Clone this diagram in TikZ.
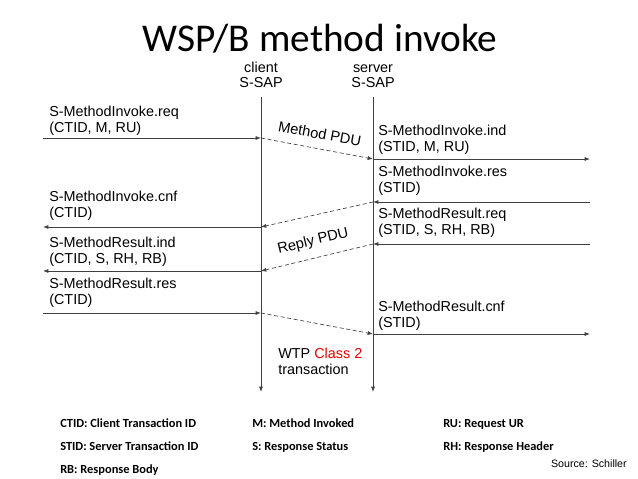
\documentclass[tikz,border=0pt]{standalone}
\usepackage{fontspec}
\setmainfont{Liberation Sans}
\newfontfamily\calibri{Carlito}
\usetikzlibrary{arrows.meta}
\colorlet{lnx}{black!75}
\colorlet{rdx}{red!90!black}
\tikzset{
    life/.style={lnx,line width=0.6pt,-{Latex[length=4pt,width=3pt]}},
    prim/.style={lnx,line width=0.6pt,-{Latex[length=4pt,width=3pt]}},
    pdu/.style={lnx,line width=0.5pt,densely dashed,-{Latex[length=4pt,width=3pt]}},
    pdulbl/.style={midway,sloped,above=6pt,inner sep=1pt,text=black,font=\fontsize{11}{12}\selectfont},
    txt/.style={inner sep=0pt,anchor=base west,align=left,font=\fontsize{10.8}{12}\selectfont},
    legend/.style={inner sep=0pt,anchor=base west,font=\calibri\bfseries\fontsize{9.3}{11}\selectfont}
}

\begin{document}
\begin{tikzpicture}[x=0.75pt,y=-0.75pt]
        \useasboundingbox (0,0) rectangle (638,478);
        \def\cx{261}
        \def\sx{373}
        % title and the two SAPs (base = last line)
        \node (title) [font=\calibri\fontsize{29.5}{34}\selectfont,inner sep=0pt,anchor=base] at (320,51) {WSP/B method invoke};
        \node (csap) [txt,anchor=base,align=center] at (\cx,88) {client\\S-SAP};
        \node (ssap) [txt,anchor=base,align=center] at (\sx,88) {server\\S-SAP};
        % life lines
        \coordinate (ctop) at (\cx,97);
        \coordinate (cbot) at (\cx,392);
        \coordinate (stop) at (\sx,97);
        \coordinate (sbot) at (\sx,392);
        \draw [life] (ctop) -- (cbot);
        \draw [life] (stop) -- (sbot);
        \foreach \n/\y in {1/138,2/227,3/271,4/313} {
            \coordinate (c\n) at (\cx,\y);
            \coordinate (l\n) at (43,\y);
        }
        \foreach \n/\y in {1/159,2/202,3/244,4/334} {
            \coordinate (s\n) at (\sx,\y);
            \coordinate (r\n) at (590,\y);
        }
        % primitives
        \draw [prim] (l1) -- (c1);
        \draw [prim] (s1) -- (r1);
        \draw [prim] (r2) -- (s2);
        \draw [prim] (c2) -- (l2);
        \draw [prim] (r3) -- (s3);
        \draw [prim] (c3) -- (l3);
        \draw [prim] (l4) -- (c4);
        \draw [prim] (s4) -- (r4);
        % PDUs
        \draw [pdu] (c1) -- (s1) node (mpdu) [pdulbl] {Method PDU};
        \draw [pdu] (s2) -- (c2);
        \draw [pdu] (s3) -- (c3) node (rpdu) [pdulbl] {Reply PDU};
        \draw [pdu] (c4) -- (s4);
        % labels
        \node (req) [txt] at (49,132) {S-MethodInvoke.req\\(CTID, M, RU)};
        \node (cnf) [txt] at (49,217) {S-MethodInvoke.cnf\\(CTID)};
        \node (rind) [txt] at (49,263) {S-MethodResult.ind\\(CTID, S, RH, RB)};
        \node (rres) [txt] at (49,304) {S-MethodResult.res\\(CTID)};
        \node (ind) [txt] at (378,151) {S-MethodInvoke.ind\\(STID, M, RU)};
        \node (res) [txt] at (378,192) {S-MethodInvoke.res\\(STID)};
        \node (rreq) [txt] at (378,234) {S-MethodResult.req\\(STID, S, RH, RB)};
        \node (rcnf) [txt] at (378,327) {S-MethodResult.cnf\\(STID)};
        \node (wtp) [txt] at (278,374) {WTP \textcolor{rdx}{Class 2}\\transaction};
        % abbreviations
        \foreach \x/\y/\t [count=\i] in {60/427/{CTID: Client Transaction ID},252/427/{M: Method Invoked},443/427/{RU: Request UR},
            60/450/{STID: Server Transaction ID},252/450/{S: Response Status},443/450/{RH: Response Header},
            60/473/{RB: Response Body}} {
            \node (abbr\i) [legend] at (\x,\y) {\t};
        }
        \node (src) [inner sep=0pt,anchor=base east,font=\fontsize{8}{10}\selectfont] at (627,467) {Source: Schiller};
    \end{tikzpicture}
\end{document}
